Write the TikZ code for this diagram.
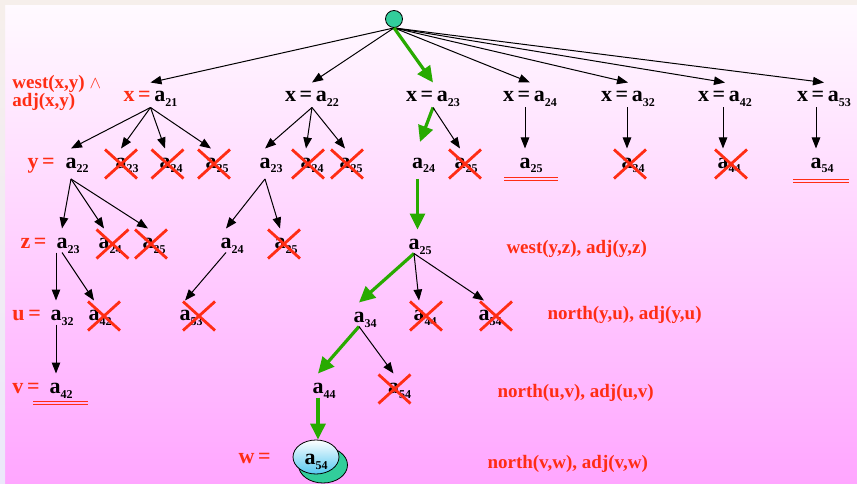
\documentclass[tikz,border=0pt]{standalone}
\usepackage{fontspec}
\setmainfont{Liberation Serif}
\usetikzlibrary{arrows.meta,shapes.geometric}
\definecolor{xred}{RGB}{255,45,20}
\definecolor{xgreen}{RGB}{40,170,0}
\definecolor{xteal}{RGB}{50,205,155}
\definecolor{xcyan}{RGB}{85,200,240}
\definecolor{bgtop}{RGB}{255,250,255}
\definecolor{bgbot}{RGB}{255,166,255}
\definecolor{bandtop}{RGB}{246,239,235}
\definecolor{bandleft}{RGB}{236,232,250}
\newcommand\sub[1]{\raisebox{-5pt}{\fontsize{12}{12}\selectfont #1}}
\newcommand\av[1]{a\rlap{\sub{#1}}}
\tikzset{
  val/.style={font=\fontsize{22}{22}\selectfont\bfseries, anchor=base, inner sep=2pt, text height=17pt, text depth=2pt},
  deep/.style={val, text depth=8.5pt},
  xval/.style={val, text depth=3pt},
  lbl/.style={font=\fontsize{22}{22}\selectfont\bfseries, text=xred, anchor=base west, inner sep=0pt},
  cond/.style={font=\fontsize{19}{17}\selectfont\bfseries, text=xred, anchor=base west, inner sep=0pt},
  cut/.style={xred, line width=2.8pt},
  win/.style={->, xgreen, line width=3.2pt, >={Triangle[length=16pt,width=15pt]}}
}
\begin{document}
\begin{tikzpicture}[x=1pt, y=-1pt, line width=1pt, >={Triangle[length=11pt,width=8.5pt]}]
\useasboundingbox (0,0) rectangle (857,484);
% background
\fill[top color=bgtop, bottom color=bgbot] (5,5) rectangle (857,484);
\fill[bandtop] (0,0) rectangle (857,5);
\fill[top color=bandtop, bottom color=bandleft] (0,5) rectangle (5,484);

% conditions
\node[cond, anchor=north west, align=left] (cxy) at (12,75) {west(x,y) $\wedge$\\adj(x,y)};
\node[cond] (cyz) at (506,253) {west(y,z), adj(y,z)};
\node[cond] (cyu) at (547,319) {north(y,u), adj(y,u)};
\node[cond] (cuv) at (497,397) {north(u,v), adj(u,v)};
\node[cond] (cvw) at (487,468) {north(v,w), adj(v,w)};

% variable names
\node[lbl] (ly) at (27,168) {y\,=};
\node[lbl] (lz) at (20,248) {z\,=};
\node[lbl] (lu) at (12,320) {u\,=};
\node[lbl] (lv) at (12,393) {v\,=};
\node[lbl] (lw) at (238,463) {w\,=};

% root and x
\node[circle, draw, fill=xteal, minimum size=17pt, inner sep=0pt, line width=0.8pt] (root) at (394,19) {};
\node[xval] (x21) at (150.5,102) {{\color{xred}x\,=\,}a\sub{21}};
\node[xval] (x22) at (312,102) {x\,=\,a\sub{22}};
\node[xval] (x23) at (433,102) {x\,=\,a\sub{23}};
\node[xval] (x24) at (530,102) {x\,=\,a\sub{24}};
\node[xval] (x32) at (628,102) {x\,=\,a\sub{32}};
\node[xval] (x42) at (725,102) {x\,=\,a\sub{42}};
\node[xval] (x53) at (824,102) {x\,=\,a\sub{53}};

% y
\node[deep] (y22) at (71,168) {\av{22}};
\node[deep] (c23) at (121,168) {\av{23}};
\node[deep] (c24) at (165,168) {\av{24}};
\node[deep] (c25) at (211,168) {\av{25}};
\node[deep] (b23) at (265,168) {\av{23}};
\node[deep] (b24x) at (306,168) {\av{24}};
\node[deep] (b25x) at (345,168) {\av{25}};
\node[deep] (d24) at (417.5,168) {\av{24}};
\node[deep] (d25x) at (460,168) {\av{25}};
\node[deep] (e25) at (525,168) {\av{25}};
\node[deep] (f34x) at (627,168) {\av{34}};
\node[deep] (g44x) at (723,168) {\av{44}};
\node[deep] (h54) at (816,168) {\av{54}};

% z
\node[val] (z23) at (62,248) {\av{23}};
\node[val] (z24x) at (104,248) {\av{24}};
\node[val] (z25x) at (148,248) {\av{25}};
\node[val] (b24) at (226,248) {\av{24}};
\node[val] (b25xx) at (280,248) {\av{25}};
\node[val] (d25) at (414,249) {\av{25}};

% u
\node[val] (u32) at (56,320) {\av{32}};
\node[val] (u42x) at (94,320) {\av{42}};
\node[val] (b53x) at (185,320) {\av{53}};
\node[val] (d34) at (359,322) {\av{34}};
\node[val] (d44x) at (419,320) {\av{44}};
\node[val] (d54x) at (484,320) {\av{54}};

% v
\node[val] (v42) at (55,393) {\av{42}};
\node[val] (d44) at (318,393) {\av{44}};
\node[val] (d54xx) at (393.5,393) {\av{54}};

% w
\draw[fill=xteal, line width=0.8pt] (323,465) ellipse [x radius=24.5pt, y radius=18pt];
\node[ellipse, draw, line width=0.8pt, top color=white, bottom color=xcyan, minimum width=46pt, minimum height=34pt, inner sep=0pt, font=\fontsize{22}{22}\selectfont\bfseries, text height=17pt, text depth=2pt] (w54) at (316,457) {a\sub{54}};

% arrows
\foreach \t in {x21,x22,x24,x32,x42,x53} \draw[->] (root.south) -- (\t.north);
\draw[win] (root.south) -- (x23.north);

\foreach \t in {y22,c23,c24,c25} \draw[->] (x21.south) -- (\t.north);
\foreach \t in {b23,b24x,b25x} \draw[->] (x22.south) -- (\t.north);
\draw[win, shorten >=7pt] (x23.south) -- (d24.north);
\draw[->] (x23.south) -- (d25x.north);
\foreach \p/\c in {x24/e25, x32/f34x, x42/g44x, x53/h54} \draw[->] (\c |- \p.south) -- (\c.north);

\foreach \t in {z23,z24x,z25x} \draw[->] (y22.south) -- (\t.north);
\foreach \t in {b24,b25xx} \draw[->] (b23.south) -- (\t.north);
\draw[win] (d24.south) -- (d24.south |- d25.north);

\draw[->] (u32 |- z23.south) -- (u32.north);
\draw[->] (z23.south) -- (u42x.north);
\draw[->] (b24.south) -- (b53x.north);
\draw[win] (d25.south) -- (d34.north);
\foreach \t in {d44x,d54x} \draw[->] (d25.south) -- (\t.north);

\draw[->] (u32.south) -- (u32.south |- v42.north);
\draw[win] (d34.south) -- (d44.north);
\draw[->] (d34.south) -- (d54xx.north);
\draw[win] (d44.south) -- (d44.south |- w54.north);

% crossed out values
\foreach \n/\dx in {c23/0, c24/2.5, c25/3, b24x/2, b25x/2, d25x/5, f34x/3, g44x/8, z24x/8.5, z25x/3, b25xx/4, u42x/10, b53x/14, d44x/7, d54x/12, d54xx/1}
  \draw[cut] ([shift={(\dx-16,-18.5)}]\n.base) -- ([shift={(\dx+16,10.5)}]\n.base)
    ([shift={(\dx-16,10.5)}]\n.base) -- ([shift={(\dx+16,-18.5)}]\n.base);

% solutions
\foreach \n/\l/\r/\d in {e25/-21/33/9.5, h54/-23/33/11.5, v42/-22/33/8.5}
  \draw[xred, line width=1.3pt] ([shift={(\l,\d)}]\n.base) -- ([shift={(\r,\d)}]\n.base)
    ([shift={(\l,\d+3)}]\n.base) -- ([shift={(\r,\d+3)}]\n.base);
\end{tikzpicture}
\end{document}
